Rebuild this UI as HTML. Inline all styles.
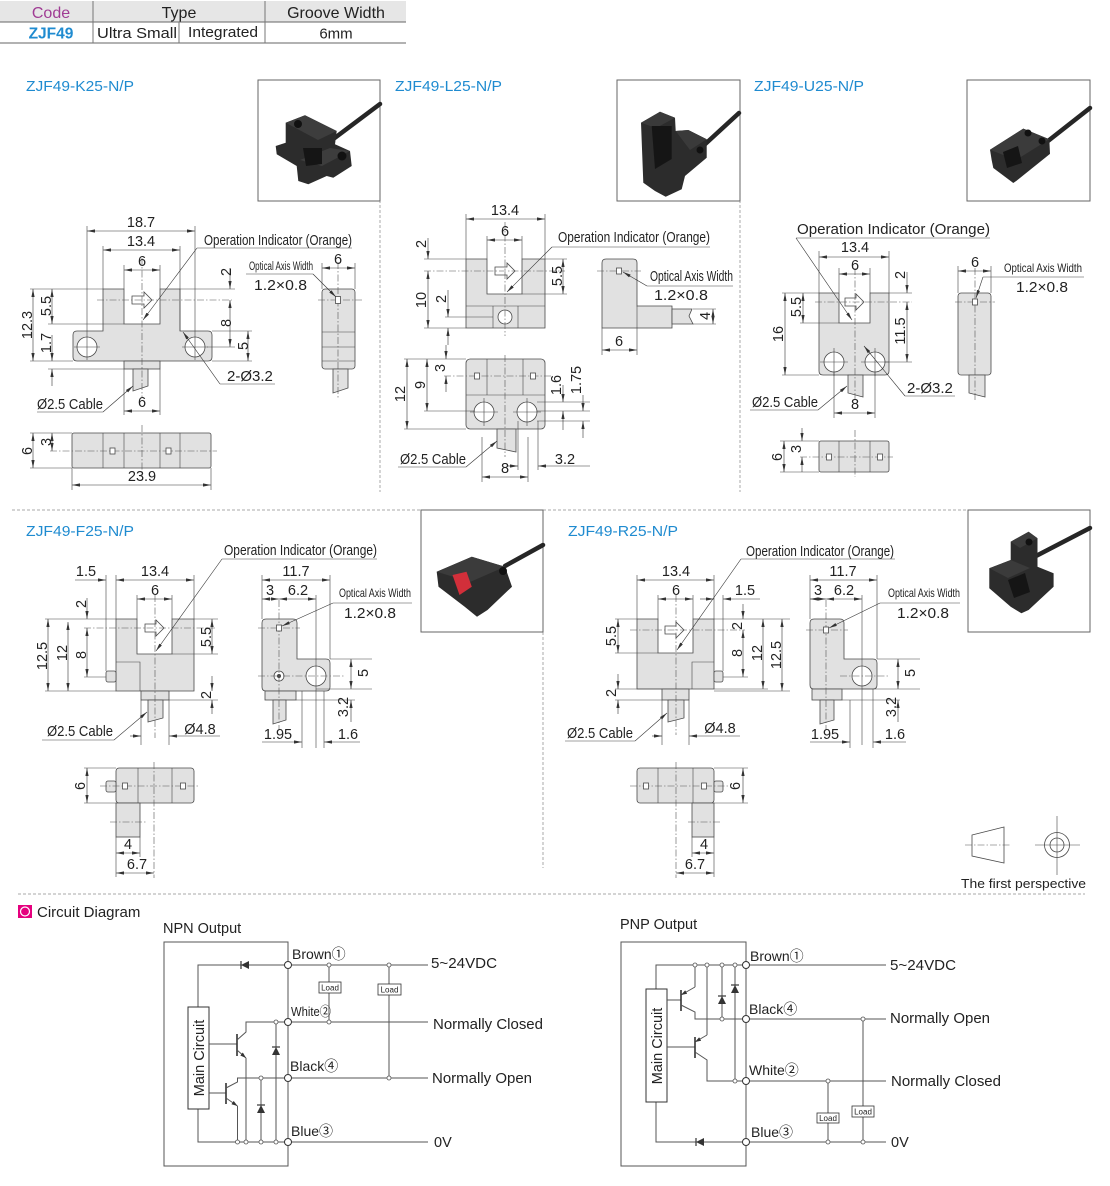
<!DOCTYPE html>
<html><head><meta charset="utf-8">
<style>
html,body{margin:0;padding:0;background:#fff}
svg{display:block}
svg text{font-family:"Liberation Sans","Noto Sans CJK SC",Arial,sans-serif;fill:#222}
.b{fill:#e1e1e1;stroke:#4a4a4a;stroke-width:.8}
.w{fill:#fff;stroke:#4a4a4a;stroke-width:.8}
.l{fill:none;stroke:#444;stroke-width:.6}
.c{fill:none;stroke:#555;stroke-width:.6;stroke-dasharray:7 2 1.5 2}
.d{stroke:#333;stroke-width:.6;fill:none;marker-start:url(#a);marker-end:url(#a)}
.e{stroke:#333;stroke-width:.6;fill:none;marker-end:url(#a)}
.dv{stroke:#aaa;stroke-width:1;stroke-dasharray:3 2;fill:none}
.t{font-size:14.5px}
.m{text-anchor:middle}
.s{font-size:11.5px}
.ti{font-size:14.5px;fill:#1f8bd0 !important}
.fr{fill:#fff;stroke:#666;stroke-width:1}
.sd{fill:#2c2c2c}
.sl{fill:#151515}
.cb{stroke:#262626;stroke-width:4.5;stroke-linecap:round;fill:none}
.k{fill:none;stroke:#555;stroke-width:1}
.tm{fill:#fff;stroke:#333;stroke-width:1}
.jd{fill:#fff;stroke:#555;stroke-width:.8}
.ld{font-size:8px}
.th{font-size:16px}
</style></head><body>
<svg width="1110" height="1186" viewBox="0 0 1110 1186" xmlns="http://www.w3.org/2000/svg">
<defs>
<marker id="a" markerUnits="userSpaceOnUse" markerWidth="8" markerHeight="4" refX="8" refY="2" orient="auto-start-reverse" viewBox="0 0 8 4"><path d="M0,0.4 L8,2 L0,3.6z" fill="#333"/></marker>
<marker id="ta" markerUnits="userSpaceOnUse" markerWidth="6" markerHeight="4" refX="6" refY="2" orient="auto" viewBox="0 0 6 4"><path d="M0,0 L6,2 L0,4z" fill="#333"/></marker>
</defs>

<!-- TABLE -->
<rect x="0" y="1" width="406" height="21" fill="#e6e6e6"/>
<path d="M0,22 H406 M0,43 H406" stroke="#666" stroke-width="1"/>
<path d="M93,1 V43 M265,1 V43 M179,22 V43" stroke="#777" stroke-width="1"/>
<text class="th m" x="51" y="18" style="fill:#a03c94">Code</text>
<text class="th m" x="179" y="18">Type</text>
<text class="th m" x="336" y="18">Groove Width</text>
<text class="m" x="51" y="38.5" style="fill:#1f8bd0;font-weight:bold;font-size:15.5px">ZJF49</text>
<text class="t" x="97" y="38" style="font-size:15px" textLength="80" lengthAdjust="spacingAndGlyphs">Ultra Small</text>
<text class="t" x="188" y="37" style="font-size:15px" textLength="70" lengthAdjust="spacingAndGlyphs">Integrated</text>
<text class="m" x="336" y="38.5" style="font-size:15px">6mm</text>

<!-- DIVIDERS -->
<path class="dv" d="M380,200 V492 M740,200 V492 M12,510 H421 M543,510 H968 M543,632 V868 M18,894 H1085"/>

<!-- TITLES -->
<text class="ti" x="26" y="91" textLength="108" lengthAdjust="spacingAndGlyphs">ZJF49-K25-N/P</text>
<text class="ti" x="395" y="91" textLength="107" lengthAdjust="spacingAndGlyphs">ZJF49-L25-N/P</text>
<text class="ti" x="754" y="91" textLength="110" lengthAdjust="spacingAndGlyphs">ZJF49-U25-N/P</text>
<text class="ti" x="26" y="536" textLength="108" lengthAdjust="spacingAndGlyphs">ZJF49-F25-N/P</text>
<text class="ti" x="568" y="536" textLength="110" lengthAdjust="spacingAndGlyphs">ZJF49-R25-N/P</text>

<!-- PHOTOS -->
<rect class="fr" x="258" y="80" width="122" height="121"/>
<path class="cb" d="M332,140 L380,104"/>
<polygon class="sd" points="285.7,122.7 305,115.3 336.7,131 335,144.3 350,151 351.7,166 333.3,177.7 326.7,176 308.3,184.3 298.3,181 296.7,166 276.7,154.3 275.7,146 285.7,142.7"/>
<polygon fill="#3d3d3d" points="285.7,122.7 305,115.3 336.7,131 318,140"/>
<polygon fill="#3d3d3d" points="300,160 330,148 350,151 322,166"/>
<polygon class="sl" points="303,148 322,148 322,164 306,166"/>
<circle cx="298" cy="124" r="4" fill="#111"/><circle cx="342" cy="156" r="4.5" fill="#111"/>

<rect class="fr" x="617" y="80" width="123" height="121"/>
<path class="cb" d="M702,147 L739,113"/>
<polygon class="sd" points="641,122.7 660,111.7 675,117.7 675.7,131 688.3,130 706.7,139.3 706.7,157.7 685,176 681.7,189.3 665.7,196.7 655,191 643.3,182.7"/>
<polygon fill="#3a3a3a" points="641,122.7 660,111.7 675,117.7 656,128"/>
<polygon fill="#3a3a3a" points="675.7,131 688.3,130 706.7,139.3 690,150"/>
<polygon class="sl" points="651.7,126 671.7,126 671.7,159 655,169"/>
<circle cx="700" cy="150" r="3.5" fill="#111"/>

<rect class="fr" x="967" y="80" width="123" height="121"/>
<path class="cb" d="M1048,141 L1090,108"/>
<polygon class="sd" points="990,149.7 1023.3,128.6 1049.3,139.2 1050,153.9 1016.7,180.6 1013.3,183 993.3,168 991.7,160.2"/>
<polygon fill="#3b3b3b" points="990,149.7 1023.3,128.6 1049.3,139.2 1016,160"/>
<polygon class="sl" points="1003,152 1018,146 1022,163 1007,168"/>
<circle cx="1028" cy="133" r="3.5" fill="#111"/><circle cx="1042" cy="141" r="3.5" fill="#111"/>

<rect class="fr" x="421" y="510" width="122" height="122"/>
<path class="cb" d="M505,566 L543,545"/>
<polygon class="sd" points="436.7,571.7 471.8,556.7 505,566.7 512,586.7 487.5,610 477,616.7 464.7,606.7 438.5,586.7"/>
<polygon fill="#3b3b3b" points="436.7,571.7 471.8,556.7 505,566.7 470,582"/>
<polygon fill="#d22f3a" points="452.5,575 466.5,571.7 471.8,586.7 459.5,595"/>
<circle cx="503" cy="571" r="4" fill="#111"/>

<rect class="fr" x="968" y="510" width="122" height="122"/>
<path class="cb" d="M1036,556 L1090,528"/>
<polygon class="sd" points="989.3,568.3 1010.7,560 1010.7,541.7 1028.6,531.7 1037.5,538.3 1037.5,566.7 1053.6,573.3 1053.6,586.7 1028.6,610 1021.4,613.3 1010.7,606.7 989.3,588.3"/>
<polygon fill="#3b3b3b" points="1010.7,541.7 1028.6,531.7 1037.5,538.3 1020,548"/>
<polygon fill="#3b3b3b" points="989.3,568.3 1010.7,560 1030,568 1008,578"/>
<polygon class="sl" points="1008,580 1025,573 1030,592 1014,598"/>
<circle cx="1029" cy="542" r="3.5" fill="#111"/>

<!-- ================= K25 ================= -->
<path class="b" d="M103,289 H124 V324 H160 V289 H180 V331 H208 Q212,331 212,335 V357 Q212,361 208,361 H77 Q73,361 73,357 V335 Q73,331 77,331 H103 Z"/>
<rect class="b" x="124" y="361" width="36" height="8"/>
<path class="b" d="M133,369 V391 L148,386 V369 Z"/>
<circle class="w" cx="87" cy="347" r="10"/>
<circle class="w" cx="195" cy="347" r="10"/>
<polygon class="w" points="132,296 144,296 144,292 152,300 144,308 144,304 132,304"/>
<path class="c" d="M142,258 V398 M97,300 H232"/>
<path class="l" d="M74,347 H100 M182,347 H208 M195,334 V360 M87,334 V360"/>
<path class="l" d="M87,226 V334 M195,226 V334 M103,246 V289 M180,246 V331 M124,265 V289 M160,265 V289 M180,289 H235 M207,347 H235 M212,331 H252 M212,361 H252 M30,289 H103 M30,361 H73 M48,324 H124 M48,369 H124 M124,369 V415 M160,369 V415"/>
<line class="d" x1="87" y1="231" x2="195" y2="231"/>
<line class="d" x1="103" y1="250" x2="180" y2="250"/>
<line class="d" x1="124" y1="270" x2="160" y2="270"/>
<line class="e" x1="230" y1="268" x2="230" y2="289"/>
<line class="d" x1="230" y1="300" x2="230" y2="347"/>
<line class="d" x1="248" y1="331" x2="248" y2="361"/>
<line class="d" x1="33" y1="289" x2="33" y2="361"/>
<line class="d" x1="52" y1="289" x2="52" y2="324"/>
<line class="e" x1="52" y1="335" x2="52" y2="361"/>
<line class="e" x1="52" y1="386" x2="52" y2="369"/>
<line class="d" x1="124" y1="411" x2="160" y2="411"/>
<text class="t m" x="141" y="227">18.7</text>
<text class="t m" x="141" y="246">13.4</text>
<text class="t m" x="142" y="266">6</text>
<text class="t m" transform="translate(231,272) rotate(-90)">2</text>
<text class="t m" transform="translate(231,323) rotate(-90)">8</text>
<text class="t m" transform="translate(248,346) rotate(-90)">5</text>
<text class="t m" transform="translate(32,325) rotate(-90)">12.3</text>
<text class="t m" transform="translate(51,306) rotate(-90)">5.5</text>
<text class="t m" transform="translate(51,343) rotate(-90)">1.7</text>
<text class="t m" x="142" y="407">6</text>
<text class="t" x="204" y="245" textLength="148" lengthAdjust="spacingAndGlyphs">Operation Indicator (Orange)</text>
<path class="l" d="M352,248 H197"/><line class="e" x1="197" y1="248" x2="143" y2="320"/>
<text class="t" x="227" y="381" style="font-size:15px">2-Ø3.2</text>
<path class="l" d="M275,384 H220"/><line class="e" x1="220" y1="384" x2="183" y2="332"/>
<text class="t" x="37" y="409" textLength="66" lengthAdjust="spacingAndGlyphs">Ø2.5 Cable</text>
<path class="l" d="M37,412 H103"/><line class="e" x1="103" y1="412" x2="133" y2="386"/>
<!-- K25 side -->
<rect class="b" x="322" y="289" width="33" height="80" rx="3"/>
<path class="l" d="M322,332 H355 M322,347 H355 M322,361 H355"/>
<path class="b" d="M333,369 V393 L348,388 V369 Z"/>
<path class="c" d="M338,262 V398 M318,300 H362"/>
<rect class="w" x="335.5" y="296.5" width="5" height="7"/>
<path class="l" d="M322,263 V289 M355,263 V289"/>
<line class="d" x1="322" y1="268" x2="355" y2="268"/>
<text class="t m" x="338" y="264">6</text>
<text class="s" x="249" y="270" textLength="64" lengthAdjust="spacingAndGlyphs">Optical Axis Width</text>
<path class="l" d="M246,274 H313"/><line class="e" x1="313" y1="274" x2="336" y2="297"/>
<text class="t" x="254" y="290" textLength="53" lengthAdjust="spacingAndGlyphs">1.2×0.8</text>
<!-- K25 bottom -->
<rect class="b" x="72" y="433" width="139" height="35" rx="2"/>
<path class="l" d="M103,433 V468 M124,433 V468 M160,433 V468 M180,433 V468"/>
<path class="c" d="M50,451 H217 M142,425 V476"/>
<rect class="w" x="110" y="448" width="5" height="6"/><rect class="w" x="166" y="448" width="5" height="6"/>
<path class="l" d="M30,433 H72 M30,468 H72 M72,468 V490 M211,468 V490"/>
<line class="d" x1="33" y1="433" x2="33" y2="468"/>
<line class="d" x1="52" y1="433" x2="52" y2="451"/>
<line class="d" x1="72" y1="485" x2="211" y2="485"/>
<text class="t m" transform="translate(32,451) rotate(-90)">6</text>
<text class="t m" transform="translate(51,442) rotate(-90)">3</text>
<text class="t m" x="142" y="481">23.9</text>

<!-- ================= L25 ================= -->
<path class="b" d="M466,259 H487 V294 H522 V259 H545 V328 H466 Z"/>
<path class="l" d="M466,306 H545 M493,306 V328 M518,306 V328"/>
<circle class="w" cx="505" cy="317" r="7"/>
<polygon class="w" points="495,267 507,267 507,263 515,271 507,279 507,275 495,275"/>
<path class="c" d="M505,222 V336 M424,271 H565"/>
<path class="l" d="M466,214 V259 M545,214 V259 M487,236 V259 M522,236 V259 M424,259 H466 M424,328 H466 M445,317 H493 M545,259 H567 M522,294 H567"/>
<line class="d" x1="466" y1="219" x2="545" y2="219"/>
<line class="d" x1="487" y1="240" x2="522" y2="240"/>
<line class="e" x1="428" y1="238" x2="428" y2="259"/>
<line class="d" x1="428" y1="271" x2="428" y2="328"/>
<line class="e" x1="448" y1="290" x2="448" y2="317"/>
<line class="e" x1="448" y1="345" x2="448" y2="328"/>
<line class="d" x1="563" y1="259" x2="563" y2="294"/>
<text class="t m" x="505" y="215">13.4</text>
<text class="t m" x="505" y="236">6</text>
<text class="t m" transform="translate(426,244) rotate(-90)">2</text>
<text class="t m" transform="translate(426,300) rotate(-90)">10</text>
<text class="t m" transform="translate(446,299) rotate(-90)">2</text>
<text class="t m" transform="translate(562,276) rotate(-90)">5.5</text>
<text class="t" x="558" y="242" textLength="152" lengthAdjust="spacingAndGlyphs">Operation Indicator (Orange)</text>
<path class="l" d="M710,247 H552"/><line class="e" x1="552" y1="247" x2="507" y2="292"/>
<!-- L25 side -->
<path class="b" d="M606,259 H633 Q637,259 637,263 V306 H672 V328 H602 V263 Q602,259 606,259 Z"/>
<path class="l" d="M637,306 V328"/>
<polygon class="b" points="672,309 692,309 689,316 693,324 672,324"/>
<path class="c" d="M597,271 H641"/>
<rect class="w" x="616.5" y="268" width="5" height="6"/>
<text class="t" x="650" y="281" textLength="83" lengthAdjust="spacingAndGlyphs">Optical Axis Width</text>
<path class="l" d="M733,286 H647"/><line class="e" x1="647" y1="286" x2="623" y2="272"/>
<text class="t" x="654" y="300" textLength="54" lengthAdjust="spacingAndGlyphs">1.2×0.8</text>
<path class="l" d="M693,309 H716 M693,324 H716 M602,328 V355 M637,328 V355"/>
<line class="d" x1="713" y1="309" x2="713" y2="324"/>
<text class="t m" transform="translate(710,316) rotate(-90)">4</text>
<line class="d" x1="602" y1="350" x2="637" y2="350"/>
<text class="t m" x="619" y="346">6</text>
<!-- L25 bottom -->
<rect class="b" x="466" y="359" width="79" height="70" rx="4"/>
<path class="b" d="M497,429 V448 L516,452 V429 Z"/>
<path class="l" d="M466,395 H545 M487,359 V395 M523,359 V395"/>
<circle class="w" cx="484" cy="412" r="10"/><circle class="w" cx="527" cy="412" r="10"/>
<path class="l" d="M470,412 H498 M484,398 V426 M513,412 H541 M527,398 V426"/>
<path class="c" d="M505,355 V457 M444,376 H553"/>
<rect class="w" x="474.5" y="373" width="5" height="6"/><rect class="w" x="530.5" y="373" width="5" height="6"/>
<path class="l" d="M404,359 H466 M404,429 H466 M424,411 H475 M537,402 H590 M537,411 H590 M537,421 H590 M518,421 V470 M538,421 V470 M482,437 V482 M528,437 V482"/>
<line class="d" x1="407" y1="359" x2="407" y2="429"/>
<line class="d" x1="427" y1="359" x2="427" y2="411"/>
<line class="e" x1="446" y1="345" x2="446" y2="359"/>
<line class="e" x1="446" y1="392" x2="446" y2="376"/>
<line class="e" x1="563" y1="385" x2="563" y2="402"/>
<line class="e" x1="563" y1="430" x2="563" y2="411"/>
<line class="e" x1="583" y1="395" x2="583" y2="411"/>
<line class="e" x1="583" y1="438" x2="583" y2="421"/>
<line class="e" x1="507" y1="466" x2="518" y2="466"/>
<line class="e" x1="590" y1="466" x2="538" y2="466"/>
<line class="d" x1="482" y1="477" x2="528" y2="477"/>
<text class="t m" transform="translate(405,394) rotate(-90)">12</text>
<text class="t m" transform="translate(425,385) rotate(-90)">9</text>
<text class="t m" transform="translate(445,368) rotate(-90)">3</text>
<text class="t m" transform="translate(561,385) rotate(-90)">1.6</text>
<text class="t m" transform="translate(581,380) rotate(-90)">1.75</text>
<text class="t m" x="565" y="464">3.2</text>
<text class="t m" x="505" y="473">8</text>
<text class="t" x="400" y="464" textLength="66" lengthAdjust="spacingAndGlyphs">Ø2.5 Cable</text>
<path class="l" d="M398,467 H466"/><line class="e" x1="466" y1="467" x2="497" y2="441"/>

<!-- ================= U25 ================= -->
<path class="b" d="M819,293 H839 V323 H870 V293 H889 V371 Q889,375 885,375 H823 Q819,375 819,371 Z"/>
<circle class="w" cx="834" cy="362" r="10"/><circle class="w" cx="875" cy="362" r="10"/>
<path class="l" d="M820,362 H848 M834,348 V376 M861,362 H889 M875,348 V376"/>
<path class="b" d="M848,375 V393 L863,397 V375 Z"/>
<polygon class="w" points="845,298 856,298 856,294 864,302 856,310 856,306 845,306"/>
<path class="c" d="M855,268 V400 M815,302 H912"/>
<path class="l" d="M819,251 V293 M889,251 V293 M839,268 V293 M870,268 V293 M782,293 H819 M782,375 H819 M800,323 H839 M889,293 H912 M885,362 H912 M834,372 V418 M875,372 V418"/>
<line class="d" x1="819" y1="257" x2="889" y2="257"/>
<line class="d" x1="839" y1="274" x2="870" y2="274"/>
<line class="d" x1="785" y1="293" x2="785" y2="375"/>
<line class="d" x1="803" y1="293" x2="803" y2="323"/>
<line class="e" x1="907" y1="272" x2="907" y2="293"/>
<line class="d" x1="907" y1="302" x2="907" y2="362"/>
<line class="d" x1="834" y1="413" x2="875" y2="413"/>
<text class="t m" x="855" y="252">13.4</text>
<text class="t m" x="855" y="270">6</text>
<text class="t m" transform="translate(783,334) rotate(-90)">16</text>
<text class="t m" transform="translate(801,307) rotate(-90)">5.5</text>
<text class="t m" transform="translate(905,275) rotate(-90)">2</text>
<text class="t m" transform="translate(905,331) rotate(-90)">11.5</text>
<text class="t m" x="855" y="409">8</text>
<text class="t" x="797" y="234" style="font-size:15px" textLength="193" lengthAdjust="spacingAndGlyphs">Operation Indicator (Orange)</text>
<path class="l" d="M990,238 H796"/><line class="e" x1="796" y1="238" x2="852" y2="320"/>
<text class="t" x="907" y="393" style="font-size:15px">2-Ø3.2</text>
<path class="l" d="M955,396 H905"/><line class="e" x1="905" y1="396" x2="864" y2="346"/>
<text class="t" x="752" y="407" textLength="66" lengthAdjust="spacingAndGlyphs">Ø2.5 Cable</text>
<path class="l" d="M750,410 H818"/><line class="e" x1="818" y1="410" x2="847" y2="386"/>
<!-- U25 side -->
<rect class="b" x="958" y="293" width="33" height="82" rx="3"/>
<path class="b" d="M969,375 V393 L985,397 V375 Z"/>
<path class="c" d="M975,268 V400 M955,302 H995"/>
<rect class="w" x="972.5" y="299" width="5" height="6"/>
<path class="l" d="M958,266 V293 M991,266 V293"/>
<line class="d" x1="958" y1="271" x2="991" y2="271"/>
<text class="t m" x="975" y="267">6</text>
<text class="s" x="1004" y="272" style="font-size:12px" textLength="78" lengthAdjust="spacingAndGlyphs">Optical Axis Width</text>
<path class="l" d="M1084,277 H983"/><line class="e" x1="983" y1="277" x2="976" y2="298"/>
<text class="t" x="1016" y="292" textLength="52" lengthAdjust="spacingAndGlyphs">1.2×0.8</text>
<!-- U25 bottom -->
<rect class="b" x="819" y="441" width="70" height="31" rx="2"/>
<path class="l" d="M839,441 V472 M870,441 V472"/>
<path class="c" d="M855,430 V477 M800,457 H893"/>
<rect class="w" x="826.5" y="454" width="5" height="6"/><rect class="w" x="877.5" y="454" width="5" height="6"/>
<path class="l" d="M780,441 H819 M780,472 H819"/>
<line class="d" x1="784" y1="441" x2="784" y2="472"/>
<line class="e" x1="802" y1="428" x2="802" y2="441"/>
<line class="e" x1="802" y1="472" x2="802" y2="457"/>
<text class="t m" transform="translate(782,457) rotate(-90)">6</text>
<text class="t m" transform="translate(801,449) rotate(-90)">3</text>

<!-- ================= F25 ================= -->
<path class="b" d="M116,619 H137 V654 H172 V619 H194 V691 H116 Z"/>
<path class="l" d="M116,662 H140 V691"/>
<rect class="b" x="106" y="671" width="10" height="11" rx="2"/>
<rect class="b" x="141" y="691" width="28" height="9"/>
<path class="b" d="M148,700 V722 L163,718 V700 Z"/>
<polygon class="w" points="145,624 156,624 156,620 164,628 156,636 156,632 145,632"/>
<path class="c" d="M155,595 V738 M84,628 H215"/>
<path class="l" d="M106,575 V671 M116,575 V619 M194,575 V619 M137,595 V619 M172,595 V619 M45,619 H116 M45,691 H116 M84,677 H106 M194,619 H218 M172,654 H218 M169,700 H218 M141,700 V745 M169,700 V745"/>
<line class="e" x1="75" y1="580" x2="106" y2="580"/>
<line class="d" x1="116" y1="580" x2="194" y2="580"/>
<line class="d" x1="137" y1="599" x2="172" y2="599"/>
<line class="e" x1="87" y1="598" x2="87" y2="619"/>
<line class="d" x1="87" y1="628" x2="87" y2="677"/>
<line class="d" x1="68" y1="622" x2="68" y2="691"/>
<line class="d" x1="48" y1="619" x2="48" y2="691"/>
<line class="d" x1="212" y1="619" x2="212" y2="654"/>
<line class="e" x1="212" y1="676" x2="212" y2="691"/>
<line class="e" x1="212" y1="714" x2="212" y2="700"/>
<line class="e" x1="130" y1="736" x2="141" y2="736"/>
<line class="e" x1="220" y1="736" x2="169" y2="736"/>
<text class="t m" x="86" y="576">1.5</text>
<text class="t m" x="155" y="576">13.4</text>
<text class="t m" x="155" y="595">6</text>
<text class="t m" transform="translate(86,604) rotate(-90)">2</text>
<text class="t m" transform="translate(86,655) rotate(-90)">8</text>
<text class="t m" transform="translate(67,653) rotate(-90)">12</text>
<text class="t m" transform="translate(47,656) rotate(-90)">12.5</text>
<text class="t m" transform="translate(211,637) rotate(-90)">5.5</text>
<text class="t m" transform="translate(211,695) rotate(-90)">2</text>
<text class="t m" x="200" y="734">Ø4.8</text>
<text class="t" x="224" y="555" textLength="153" lengthAdjust="spacingAndGlyphs">Operation Indicator (Orange)</text>
<path class="l" d="M377,559 H222"/><line class="e" x1="222" y1="559" x2="156" y2="651"/>
<text class="t" x="47" y="736" textLength="66" lengthAdjust="spacingAndGlyphs">Ø2.5 Cable</text>
<path class="l" d="M42,740 H114"/><line class="e" x1="114" y1="740" x2="147" y2="712"/>
<!-- F25 side -->
<path class="b" d="M266,619 H293 Q297,619 297,623 V659 H326 Q330,659 330,663 V687 Q330,691 326,691 H266 Q262,691 262,687 V623 Q262,619 266,619 Z"/>
<rect class="b" x="265" y="691" width="31" height="9"/>
<path class="b" d="M273,700 V724 L286,720 V700 Z"/>
<circle class="w" cx="316" cy="676" r="10"/>
<circle class="w" cx="279" cy="676" r="5"/><circle cx="279" cy="676" r="2" fill="#444"/>
<path class="c" d="M279,600 V730 M258,628 H300 M258,676 H345"/>
<rect class="w" x="276.5" y="625" width="5" height="6"/>
<path class="l" d="M262,575 V619 M330,575 V659 M316,595 V748 M330,659 H372 M316,689 H372 M296,700 H355 M302,691 V748 M324,691 V748"/>
<line class="d" x1="262" y1="580" x2="330" y2="580"/>
<line class="d" x1="262" y1="599" x2="279" y2="599"/>
<line class="d" x1="279" y1="599" x2="316" y2="599"/>
<line class="d" x1="351" y1="659" x2="351" y2="689"/>
<line class="e" x1="351" y1="722" x2="351" y2="700"/>
<line class="e" x1="262" y1="742" x2="302" y2="742"/>
<line class="e" x1="360" y1="742" x2="324" y2="742"/>
<text class="t m" x="296" y="576">11.7</text>
<text class="t m" x="270" y="595">3</text>
<text class="t m" x="298" y="595">6.2</text>
<text class="t m" transform="translate(368,673) rotate(-90)">5</text>
<text class="t m" transform="translate(348,707) rotate(-90)">3.2</text>
<text class="t m" x="278" y="739">1.95</text>
<text class="t m" x="348" y="739">1.6</text>
<text class="t" x="339" y="597" style="font-size:12px" textLength="72" lengthAdjust="spacingAndGlyphs">Optical Axis Width</text>
<path class="l" d="M412,603 H333"/><line class="e" x1="333" y1="603" x2="282" y2="626"/>
<text class="t" x="344" y="618" textLength="52" lengthAdjust="spacingAndGlyphs">1.2×0.8</text>
<!-- F25 bottom -->
<rect class="b" x="116" y="768" width="78" height="35" rx="3"/>
<path class="l" d="M138,768 V803 M172,768 V803"/>
<rect class="b" x="106" y="781" width="10" height="11" rx="2"/>
<rect class="b" x="116" y="803" width="24" height="34"/>
<path class="c" d="M154,762 V878 M100,786 H200 M110,822 H146"/>
<rect class="w" x="122.5" y="783" width="5" height="6"/><rect class="w" x="180.5" y="783" width="5" height="6"/>
<path class="l" d="M84,768 H116 M84,803 H116 M116,837 V877 M140,837 V857"/>
<line class="d" x1="87" y1="768" x2="87" y2="803"/>
<line class="d" x1="116" y1="853" x2="140" y2="853"/>
<line class="d" x1="116" y1="873" x2="154" y2="873"/>
<text class="t m" transform="translate(85,786) rotate(-90)">6</text>
<text class="t m" x="128" y="849">4</text>
<text class="t m" x="137" y="869">6.7</text>

<!-- ================= R25 ================= -->
<path class="b" d="M637,619 H658 V653 H693 V619 H714 V689 H637 Z"/>
<path class="l" d="M714,662 H692 V689"/>
<rect class="b" x="714" y="671" width="9" height="11" rx="2"/>
<rect class="b" x="662" y="689" width="27" height="11"/>
<path class="b" d="M668,700 V722 L684,718 V700 Z"/>
<polygon class="w" points="665,626 676,626 676,622 684,630 676,638 676,634 665,634"/>
<path class="c" d="M676,595 V735 M630,630 H745"/>
<path class="l" d="M637,575 V619 M714,575 V619 M658,595 V619 M693,595 V619 M723,595 V671 M615,619 H637 M615,653 H658 M615,689 H662 M615,700 H662 M714,619 H790 M723,677 H748 M714,689 H768 M714,691 H790 M662,700 V745 M689,700 V745"/>
<line class="d" x1="637" y1="580" x2="714" y2="580"/>
<line class="d" x1="658" y1="599" x2="693" y2="599"/>
<line class="e" x1="700" y1="599" x2="714" y2="599"/>
<line class="e" x1="760" y1="599" x2="723" y2="599"/>
<line class="d" x1="618" y1="619" x2="618" y2="653"/>
<line class="e" x1="618" y1="674" x2="618" y2="689"/>
<line class="e" x1="618" y1="714" x2="618" y2="700"/>
<line class="e" x1="743" y1="604" x2="743" y2="619"/>
<line class="d" x1="743" y1="630" x2="743" y2="677"/>
<line class="d" x1="763" y1="619" x2="763" y2="689"/>
<line class="d" x1="782" y1="619" x2="782" y2="691"/>
<line class="e" x1="652" y1="736" x2="662" y2="736"/>
<line class="e" x1="740" y1="736" x2="689" y2="736"/>
<text class="t m" x="676" y="576">13.4</text>
<text class="t m" x="676" y="595">6</text>
<text class="t m" x="745" y="595">1.5</text>
<text class="t m" transform="translate(616,636) rotate(-90)">5.5</text>
<text class="t m" transform="translate(616,693) rotate(-90)">2</text>
<text class="t m" transform="translate(742,626) rotate(-90)">2</text>
<text class="t m" transform="translate(742,653) rotate(-90)">8</text>
<text class="t m" transform="translate(762,653) rotate(-90)">12</text>
<text class="t m" transform="translate(781,655) rotate(-90)">12.5</text>
<text class="t m" x="720" y="733">Ø4.8</text>
<text class="t" x="746" y="556" textLength="148" lengthAdjust="spacingAndGlyphs">Operation Indicator (Orange)</text>
<path class="l" d="M895,559 H741"/><line class="e" x1="741" y1="559" x2="677" y2="650"/>
<text class="t" x="567" y="738" textLength="66" lengthAdjust="spacingAndGlyphs">Ø2.5 Cable</text>
<path class="l" d="M565,741 H635"/><line class="e" x1="635" y1="741" x2="667" y2="713"/>
<!-- R25 side -->
<path class="b" d="M814,619 H840 Q844,619 844,623 V659 H873 Q877,659 877,663 V685 Q877,689 873,689 H814 Q810,689 810,685 V623 Q810,619 814,619 Z"/>
<rect class="b" x="812" y="689" width="30" height="11"/>
<path class="b" d="M820,700 V724 L834,720 V700 Z"/>
<circle class="w" cx="862" cy="676" r="10"/>
<path class="c" d="M826,600 V730 M806,630 H848 M840,676 H890"/>
<rect class="w" x="823.5" y="627" width="5" height="6"/>
<path class="l" d="M810,575 V619 M877,575 V659 M862,595 V745 M877,659 H920 M862,689 H920 M842,700 H900 M850,700 V748 M873,689 V748"/>
<line class="d" x1="810" y1="580" x2="877" y2="580"/>
<line class="d" x1="810" y1="599" x2="826" y2="599"/>
<line class="d" x1="826" y1="599" x2="862" y2="599"/>
<line class="d" x1="898" y1="659" x2="898" y2="689"/>
<line class="e" x1="898" y1="722" x2="898" y2="700"/>
<line class="e" x1="810" y1="742" x2="850" y2="742"/>
<line class="e" x1="906" y1="742" x2="873" y2="742"/>
<text class="t m" x="843" y="576">11.7</text>
<text class="t m" x="818" y="595">3</text>
<text class="t m" x="844" y="595">6.2</text>
<text class="t m" transform="translate(915,673) rotate(-90)">5</text>
<text class="t m" transform="translate(896,707) rotate(-90)">3.2</text>
<text class="t m" x="825" y="739">1.95</text>
<text class="t m" x="895" y="739">1.6</text>
<text class="t" x="888" y="597" style="font-size:12px" textLength="72" lengthAdjust="spacingAndGlyphs">Optical Axis Width</text>
<path class="l" d="M960,603 H880"/><line class="e" x1="880" y1="603" x2="829" y2="628"/>
<text class="t" x="897" y="618" textLength="52" lengthAdjust="spacingAndGlyphs">1.2×0.8</text>
<!-- R25 bottom -->
<rect class="b" x="637" y="768" width="77" height="35" rx="3"/>
<path class="l" d="M658,768 V803 M693,768 V803"/>
<rect class="b" x="714" y="781" width="9" height="11" rx="2"/>
<rect class="b" x="692" y="803" width="22" height="34"/>
<path class="c" d="M676,762 V878 M630,786 H730 M688,822 H720"/>
<rect class="w" x="643.5" y="783" width="5" height="6"/><rect class="w" x="701.5" y="783" width="5" height="6"/>
<path class="l" d="M714,768 H748 M714,803 H748 M692,837 V857 M714,837 V877"/>
<line class="d" x1="743" y1="768" x2="743" y2="803"/>
<line class="d" x1="692" y1="853" x2="714" y2="853"/>
<line class="d" x1="676" y1="873" x2="714" y2="873"/>
<text class="t m" transform="translate(740,786) rotate(-90)">6</text>
<text class="t m" x="704" y="849">4</text>
<text class="t m" x="695" y="869">6.7</text>

<!-- First perspective symbol -->
<polygon class="w" points="972,835 1004,827 1004,863 972,856"/>
<path class="c" d="M965,845 H1010"/>
<circle class="w" cx="1057" cy="845" r="12.5" style="fill:none"/>
<circle class="w" cx="1057" cy="845" r="7" style="fill:none"/>
<path class="l" d="M1035,845 H1080 M1057,816 V875"/>
<text x="961" y="888" style="font-size:13px" textLength="125" lengthAdjust="spacingAndGlyphs">The first perspective</text>

<!-- ================= CIRCUIT ================= -->
<rect x="18" y="905" width="14" height="13" fill="#e5007e"/>
<circle cx="25" cy="911.5" r="4.5" fill="none" stroke="#fff" stroke-width="1.2"/>
<text x="37" y="917" style="font-size:15px">Circuit Diagram</text>
<text x="163" y="933" style="font-size:14.5px">NPN Output</text>
<text x="620" y="929" style="font-size:14.5px">PNP Output</text>

<!-- NPN -->
<rect class="k" x="164" y="942" width="124" height="224"/>
<path class="k" d="M198,1007 V965 H288 M198,1109 V1142 H288 M288,965 H428 M288,1022 H428 M288,1078 H428 M288,1142 H428"/>
<polygon points="241,965 249,961 249,969" fill="#333"/><path d="M241,961 V969" stroke="#333" stroke-width="1.2"/>
<rect x="188" y="1007" width="21" height="102" fill="#fff" stroke="#333" stroke-width="1"/>
<text class="m" transform="translate(204,1058) rotate(-90)" style="font-size:14.5px">Main Circuit</text>
<path class="k" d="M209,1044 H237 M209,1093 H226"/>
<path d="M237,1034 V1056 M226,1083 V1104" stroke="#333" stroke-width="1.6"/>
<path class="k" d="M237,1040 L246,1032 V1022 H288"/>
<path class="k" d="M237,1050 L246,1058" marker-end="url(#ta)"/>
<path class="k" d="M246,1058 V1142"/>
<path class="k" d="M226,1088 L237.5,1082 V1078 H288"/>
<path class="k" d="M226,1098 L237.5,1106" marker-end="url(#ta)"/>
<path class="k" d="M237.5,1106 V1142"/>
<path class="k" d="M276,1022 V1142 M261,1078 V1142"/>
<polygon points="272,1055 280,1055 276,1047" fill="#333"/><path d="M272,1047 H280" stroke="#333" stroke-width="1.2"/>
<polygon points="257,1113 265,1113 261,1105" fill="#333"/><path d="M257,1105 H265" stroke="#333" stroke-width="1.2"/>
<path class="k" d="M329,965 V1022 M389,965 V1078"/>
<rect x="319" y="982" width="22" height="11" fill="#fff" stroke="#333" stroke-width=".8"/>
<text class="ld m" x="330" y="990.5">Load</text>
<rect x="378" y="984" width="23" height="11" fill="#fff" stroke="#333" stroke-width=".8"/>
<text class="ld m" x="389.5" y="992.5">Load</text>
<g class="jd"><circle cx="276" cy="1022" r="2"/><circle cx="261" cy="1078" r="2"/><circle cx="237.5" cy="1142" r="2"/><circle cx="246" cy="1142" r="2"/><circle cx="261" cy="1142" r="2"/><circle cx="276" cy="1142" r="2"/><circle cx="329" cy="965" r="2"/><circle cx="329" cy="1022" r="2"/><circle cx="389" cy="965" r="2"/><circle cx="389" cy="1078" r="2"/></g>
<g class="tm"><circle cx="288" cy="965" r="3.5"/><circle cx="288" cy="1022" r="3.5"/><circle cx="288" cy="1078" r="3.5"/><circle cx="288" cy="1142" r="3.5"/></g>
<text x="292" y="959" style="font-size:14px">Brown①</text>
<text x="291" y="1016" style="font-size:13px" textLength="40" lengthAdjust="spacingAndGlyphs">White②</text>
<text x="290" y="1071" style="font-size:14px">Black④</text>
<text x="291" y="1136" style="font-size:14px">Blue③</text>
<text x="431" y="968" style="font-size:14.5px" textLength="66" lengthAdjust="spacingAndGlyphs">5~24VDC</text>
<text x="433" y="1029" style="font-size:14.5px" textLength="110" lengthAdjust="spacingAndGlyphs">Normally Closed</text>
<text x="432" y="1083" style="font-size:14.5px" textLength="100" lengthAdjust="spacingAndGlyphs">Normally Open</text>
<text x="434" y="1147" style="font-size:14.5px">0V</text>

<!-- PNP -->
<rect class="k" x="621" y="942" width="125" height="224"/>
<path class="k" d="M656,989 V965 H746 M656,1102 V1142 H746 M746,965 H886 M746,1019 H886 M746,1081 H886 M746,1142 H886"/>
<polygon points="696,1142 704,1138 704,1146" fill="#333"/><path d="M696,1138 V1146" stroke="#333" stroke-width="1.2"/>
<rect x="646" y="989" width="21" height="113" fill="#fff" stroke="#333" stroke-width="1"/>
<text class="m" transform="translate(662,1046) rotate(-90)" style="font-size:14.5px">Main Circuit</text>
<path class="k" d="M667,1000 H681 M667,1047 H695"/>
<path d="M681,990 V1011 M695,1037 V1058" stroke="#333" stroke-width="1.6"/>
<path class="k" d="M695,987 L681,995" marker-end="url(#ta)"/>
<path class="k" d="M695,987 V965"/>
<path class="k" d="M681,1005 L695,1012 V1019 H746"/>
<path class="k" d="M707,1035 L695,1042" marker-end="url(#ta)"/>
<path class="k" d="M707,1035 V965"/>
<path class="k" d="M695,1052 L707,1060 V1081 H746"/>
<path class="k" d="M722,965 V1019 M735,965 V1081"/>
<polygon points="718,1004 726,1004 722,996" fill="#333"/><path d="M718,996 H726" stroke="#333" stroke-width="1.2"/>
<polygon points="731,993 739,993 735,985" fill="#333"/><path d="M731,985 H739" stroke="#333" stroke-width="1.2"/>
<path class="k" d="M828,1081 V1142 M863,1019 V1142"/>
<rect x="817" y="1113" width="22" height="10" fill="#fff" stroke="#333" stroke-width=".8"/>
<text class="ld m" x="828" y="1121">Load</text>
<rect x="852" y="1106" width="22" height="11" fill="#fff" stroke="#333" stroke-width=".8"/>
<text class="ld m" x="863" y="1114.5">Load</text>
<g class="jd"><circle cx="695" cy="965" r="2"/><circle cx="707" cy="965" r="2"/><circle cx="722" cy="965" r="2"/><circle cx="735" cy="965" r="2"/><circle cx="722" cy="1019" r="2"/><circle cx="735" cy="1081" r="2"/><circle cx="828" cy="1081" r="2"/><circle cx="828" cy="1142" r="2"/><circle cx="863" cy="1019" r="2"/><circle cx="863" cy="1142" r="2"/></g>
<g class="tm"><circle cx="746" cy="965" r="3.5"/><circle cx="746" cy="1019" r="3.5"/><circle cx="746" cy="1081" r="3.5"/><circle cx="746" cy="1142" r="3.5"/></g>
<text x="750" y="961" style="font-size:14px">Brown①</text>
<text x="749" y="1014" style="font-size:14px">Black④</text>
<text x="749" y="1075" style="font-size:14px">White②</text>
<text x="751" y="1137" style="font-size:14px">Blue③</text>
<text x="890" y="970" style="font-size:14.5px" textLength="66" lengthAdjust="spacingAndGlyphs">5~24VDC</text>
<text x="890" y="1023" style="font-size:14.5px" textLength="100" lengthAdjust="spacingAndGlyphs">Normally Open</text>
<text x="891" y="1086" style="font-size:14.5px" textLength="110" lengthAdjust="spacingAndGlyphs">Normally Closed</text>
<text x="891" y="1147" style="font-size:14.5px">0V</text>
</svg>
</body></html>
